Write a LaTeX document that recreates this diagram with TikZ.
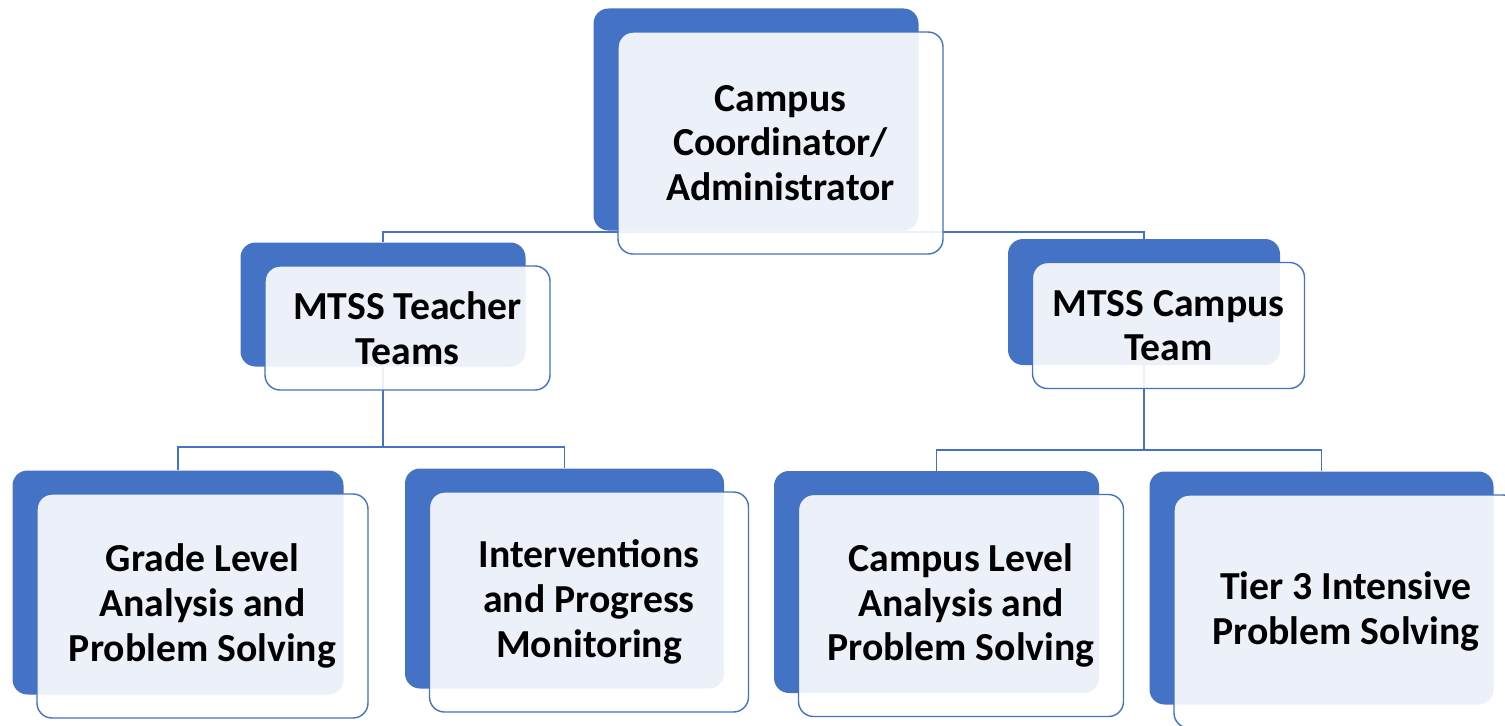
\documentclass[tikz,border=0pt]{standalone}
\usepackage{fontspec}
\setmainfont{Carlito}
\usetikzlibrary{positioning,backgrounds}
\definecolor{boxblue}{HTML}{4472C4}
\begin{document}
\begin{tikzpicture}[
    backbox/.style={rectangle,rounded corners=0.3cm,fill=boxblue,inner sep=0pt},
    frontbox/.style={rectangle,rounded corners=0.3cm,draw=boxblue,line width=0.8pt,fill=white,fill opacity=0.9,text opacity=1,draw opacity=1,inner sep=0pt,align=center,font=\fontsize{22.6}{25.4}\selectfont\bfseries},
    link/.style={boxblue,line width=1pt}
  ]
    \clip (0,0) rectangle (30.1,-14.52);

    \node[backbox,minimum width=6.5cm,minimum height=4.44cm] (rootb) at (15.12,-2.39) {};
    \node[frontbox,minimum width=6.5cm,minimum height=4.44cm] (root) at ([shift={(0.49,-0.47)}]rootb.center) {Campus\\Coordinator/\\Administrator};

    \node[backbox,minimum width=5.7cm,minimum height=2.48cm] (teachb) at (7.66,-6.09) {};
    \node[frontbox,minimum width=5.7cm,minimum height=2.48cm] (teach) at ([shift={(0.49,-0.47)}]teachb.center) {MTSS Teacher\\Teams};

    \node[backbox,minimum width=5.44cm,minimum height=2.52cm] (campb) at (22.88,-6.04) {};
    \node[frontbox,minimum width=5.44cm,minimum height=2.52cm] (camp) at ([shift={(0.49,-0.47)}]campb.center) {MTSS Campus\\Team};

    \node[backbox,minimum width=6.62cm,minimum height=4.48cm] (gradeb) at (3.56,-11.65) {};
    \node[frontbox,minimum width=6.62cm,minimum height=4.48cm] (grade) at ([shift={(0.49,-0.47)}]gradeb.center) {Grade Level\\Analysis and\\Problem Solving};

    \node[backbox,minimum width=6.38cm,minimum height=4.40cm] (intvb) at (11.29,-11.57) {};
    \node[frontbox,minimum width=6.38cm,minimum height=4.40cm] (intv) at ([shift={(0.49,-0.47)}]intvb.center) {Interventions\\and Progress\\Monitoring};

    \node[backbox,minimum width=6.5cm,minimum height=4.44cm] (levelb) at (18.73,-11.64) {};
    \node[frontbox,minimum width=6.5cm,minimum height=4.44cm] (level) at ([shift={(0.49,-0.47)}]levelb.center) {Campus Level\\Analysis and\\Problem Solving};

    \node[backbox,minimum width=6.88cm,minimum height=4.66cm] (tierb) at (26.43,-11.76) {};
    \node[frontbox,minimum width=6.88cm,minimum height=4.66cm] (tier) at ([shift={(0.49,-0.47)}]tierb.center) {Tier 3 Intensive\\Problem Solving};

    \coordinate (bus0) at (0,-4.64);
    \coordinate (bus1) at (0,-8.94);
    \coordinate (bus2) at (0,-9.0);

    \begin{pgfonlayer}{background}
        \draw[link] (rootb.south) -- (rootb.south |- bus0) -| (teachb.north);
        \draw[link] (rootb.south |- bus0) -| (campb.north);
        \draw[link] (teachb.south) -- (teachb.south |- bus1) -| (gradeb.north);
        \draw[link] (teachb.south |- bus1) -| (intvb.north);
        \draw[link] (campb.south) -- (campb.south |- bus2) -| (levelb.north);
        \draw[link] (campb.south |- bus2) -| (tierb.north);
    \end{pgfonlayer}
\end{tikzpicture}
\end{document}
